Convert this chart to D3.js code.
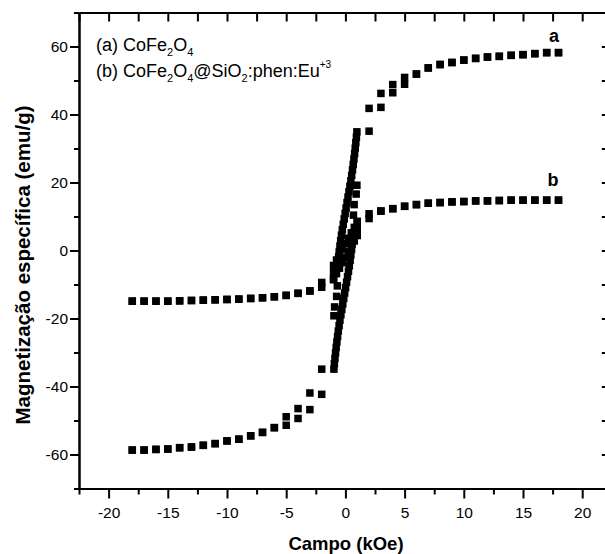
<!DOCTYPE html>
<html><head><meta charset="utf-8">
<script src="https://cdn.jsdelivr.net/npm/d3@7"></script>
<style>body{margin:0;background:#fff} svg{display:block}</style>
</head><body>
<svg id="chart" width="605" height="554"></svg>
<script>
// ---- Data ----
// Series a: CoFe2O4, descending and ascending field sweeps (field in kOe, magnetization in emu/g)
const aFieldDesc = [18,17,16,15,14,13,12,11,10,9,8,7,6,5,4,3,2,
  0.97,0.93,0.88,0.83,0.78,0.72,0.66,0.60,0.53,0.46,0.38,0.30,0.22,0.14,0.06,-0.02,-0.10,-0.18,
  -0.26,-0.33,-0.40,-0.46,-0.52,-0.57,-0.62,-0.66,-0.68,-0.74,-0.91,-0.97,
  -2,-3,-4,-5,-6,-7,-8,-9,-10,-11,-12,-13,-14,-15,-16,-17,-18];
const aMagDesc = [58.2,58.2,57.9,57.6,57.4,57.1,56.9,56.5,56.0,55.3,54.7,53.7,51.9,50.9,48.8,46.2,41.8,
  34.9,33.3,31.7,30.1,28.5,26.9,25.3,23.7,22.1,20.5,18.9,17.3,15.7,14.1,12.5,10.9,9.3,7.7,
  6.1,4.5,2.9,1.3,-0.3,-1.9,-3.5,-5.1,-10.4,-13.5,-16.6,-19.2,
  -34.9,-41.9,-46.5,-48.9,-52.1,-53.5,-54.5,-55.5,-56.0,-56.8,-57.3,-57.8,-58.0,-58.4,-58.5,-58.7,-58.7];
const aFieldAsc = [-18,-17,-16,-15,-14,-13,-12,-11,-10,-9,-8,-7,-6,-5,-4,-3,-2,
  -0.97,-0.93,-0.88,-0.83,-0.78,-0.72,-0.66,-0.60,-0.53,-0.46,-0.38,-0.30,-0.22,-0.14,-0.06,0.02,0.10,0.18,
  0.26,0.33,0.40,0.46,0.52,0.57,0.62,0.66,0.68,0.74,0.91,0.97,
  2,3,4,5,6,7,8,9,10,11,12,13,14,15,16,17,18];
const aMagAsc = [-58.7,-58.7,-58.5,-58.4,-58.0,-57.8,-57.3,-56.8,-56.0,-55.5,-54.5,-53.5,-52.1,-51.4,-49.4,-46.8,-42.3,
  -34.9,-33.3,-31.7,-30.1,-28.5,-26.9,-25.3,-23.7,-22.1,-20.5,-18.9,-17.3,-15.7,-14.1,-12.5,-10.9,-9.3,-7.7,
  -6.1,-4.5,-2.9,-1.3,0.3,1.9,3.5,5.1,10.4,13.5,16.6,19.2,
  35.1,42.1,46.4,48.9,51.9,53.7,54.7,55.3,56.0,56.5,56.9,57.1,57.4,57.6,57.9,58.2,58.2];

// Series b: CoFe2O4@SiO2:phen:Eu+3
const bFieldDesc = [18,17,16,15,14,13,12,11,10,9,8,7,6,5,4,3,2,
  1.0,0.75,0.5,0.25,0,-0.25,-0.5,-0.75,-1.0,-1.0,-1.0,
  -2,-3,-4,-5,-6,-7,-8,-9,-10,-11,-12,-13,-14,-15,-16,-17,-18];
const bMagDesc = [14.8,14.8,14.8,14.8,14.8,14.7,14.6,14.6,14.4,14.3,14.1,13.9,13.5,13.0,12.3,11.6,10.8,
  8.4,6.8,5.2,3.6,2.0,0.4,-1.2,-2.8,-4.4,-6.5,-8.6,
  -9.4,-11.9,-12.6,-13.2,-13.6,-13.9,-14.1,-14.3,-14.4,-14.5,-14.6,-14.7,-14.8,-14.9,-14.9,-14.9,-14.9];
const bFieldAsc = [-18,-17,-16,-15,-14,-13,-12,-11,-10,-9,-8,-7,-6,-5,-4,-3,-2,
  -1.0,-0.75,-0.5,-0.25,0,0.25,0.5,0.75,1.0,1.0,1.0,
  2,3,4,5,6,7,8,9,10,11,12,13,14,15,16,17,18];
const bMagAsc = [-14.9,-14.9,-14.9,-14.9,-14.8,-14.7,-14.6,-14.5,-14.4,-14.3,-14.1,-13.9,-13.6,-13.2,-12.6,-11.9,-10.8,
  -8.4,-6.8,-5.2,-3.6,-2.0,-0.4,1.2,2.8,4.4,6.5,8.6,
  9.4,11.6,12.3,13.0,13.5,13.9,14.1,14.3,14.4,14.6,14.6,14.7,14.8,14.8,14.8,14.8,14.8];

const xMajorTicks = [-20,-15,-10,-5,0,5,10,15,20];
const xMinorTicks = [-22.5,-17.5,-12.5,-7.5,-2.5,2.5,7.5,12.5,17.5,22.5];
const yMajorTicks = [-60,-40,-20,0,20,40,60];
const yMinorTicks = [-70,-50,-30,-10,10,30,50,70];

const xLabel = "Campo (kOe)";
const yLabel = "Magnetização específica (emu/g)";
const legendA = [{t: "(a) CoFe"}, {sub: "2"}, {t: "O"}, {sub: "4"}];
const legendB = [{t: "(b) CoFe"}, {sub: "2"}, {t: "O"}, {sub: "4"}, {t: "@SiO"}, {sub: "2"}, {t: ":phen:Eu"}, {sup: "+3"}];

// ---- Drawing ----
const svg = d3.select("#chart");
const FONT = "'Liberation Sans', Arial, sans-serif";
const x = d3.scaleLinear().domain([-22.5, 22.5]).range([79, 611.8]);
const y = d3.scaleLinear().domain([-70, 70]).range([488.5, 12.5]);

function styleAxis(g) {
  g.selectAll("path.domain").attr("stroke", "#000").attr("stroke-width", 2);
  g.selectAll(".tick line").attr("stroke", "#000").attr("stroke-width", 2);
}
const fmt = d => d < 0 ? "-" + Math.abs(d) : String(d);

// bottom
const gB = svg.append("g").attr("transform", `translate(0,${y(-70)})`)
  .call(d3.axisBottom(x).tickValues(xMajorTicks).tickSize(10).tickSizeOuter(0).tickPadding(8).tickFormat(fmt));
styleAxis(gB);
gB.selectAll("text").attr("font-family", FONT).attr("font-size", "15.5px").attr("fill", "#000");
const gBm = svg.append("g").attr("transform", `translate(0,${y(-70)})`)
  .call(d3.axisBottom(x).tickValues(xMinorTicks).tickSize(6).tickSizeOuter(0).tickFormat(""));
styleAxis(gBm);
gBm.selectAll("text").remove();

// top
const gT = svg.append("g").attr("transform", `translate(0,${y(70)})`)
  .call(d3.axisTop(x).tickValues(xMajorTicks.concat(xMinorTicks)).tickSize(-9).tickSizeOuter(0).tickFormat(""));
styleAxis(gT);
gT.selectAll("text").remove();

// left
const gL = svg.append("g").attr("transform", `translate(${x(-22.5)},0)`)
  .call(d3.axisLeft(y).tickValues(yMajorTicks).tickSize(9).tickSizeOuter(0).tickPadding(2).tickFormat(fmt));
styleAxis(gL);
gL.selectAll("text").attr("font-family", FONT).attr("font-size", "15.5px").attr("fill", "#000");
const gLm = svg.append("g").attr("transform", `translate(${x(-22.5)},0)`)
  .call(d3.axisLeft(y).tickValues(yMinorTicks).tickSize(5).tickSizeOuter(0).tickFormat(""));
styleAxis(gLm);
gLm.selectAll("text").remove();

// right
const gR = svg.append("g").attr("transform", `translate(${x(22.5)},0)`)
  .call(d3.axisRight(y).tickValues(yMajorTicks.concat(yMinorTicks)).tickSize(-10).tickSizeOuter(0).tickFormat(""));
styleAxis(gR);
gR.selectAll("text").remove();

// data
const series = [
  {H: aFieldDesc, M: aMagDesc}, {H: aFieldAsc, M: aMagAsc},
  {H: bFieldDesc, M: bMagDesc}, {H: bFieldAsc, M: bMagAsc}
];
const S = 7.5;
series.forEach(s => {
  const pts = s.H.map((h, i) => [h, s.M[i]]);
  svg.append("g").selectAll("rect").data(pts).join("rect")
    .attr("x", d => x(d[0]) - S / 2).attr("y", d => y(d[1]) - S / 2)
    .attr("width", S).attr("height", S).attr("fill", "#000");
});

// axis labels
svg.append("text").attr("x", 346).attr("y", 550).attr("text-anchor", "middle")
  .attr("font-family", FONT).attr("font-weight", "bold").attr("font-size", "18.5px").text(xLabel);
svg.append("text").attr("transform", "translate(29.5,265) rotate(-90)").attr("text-anchor", "middle")
  .attr("font-family", FONT).attr("font-weight", "bold").attr("font-size", "20.5px").text(yLabel);

// legend (chemical formulas with sub/superscripts; offsets carried to the next span)
function chem(parts, x0, y0) {
  const txt = svg.append("text").attr("x", x0).attr("y", y0)
    .attr("font-family", FONT).attr("font-size", "18px").attr("fill", "#000");
  let carry = 0;
  parts.forEach(p => {
    if (p.sub) {
      txt.append("tspan").attr("font-size", "11px").attr("dy", carry + 5).text(p.sub);
      carry = -5;
    } else if (p.sup) {
      txt.append("tspan").attr("font-size", "10px").attr("dy", carry - 9).text(p.sup);
      carry = 9;
    } else {
      txt.append("tspan").attr("dy", carry).text(p.t);
      carry = 0;
    }
  });
}
chem(legendA, 96, 51);
chem(legendB, 96, 77);

// curve labels
svg.append("text").attr("x", 554).attr("y", 42).attr("text-anchor", "middle")
  .attr("font-family", FONT).attr("font-weight", "bold").attr("font-size", "18px").text("a");
svg.append("text").attr("x", 553).attr("y", 186).attr("text-anchor", "middle")
  .attr("font-family", FONT).attr("font-weight", "bold").attr("font-size", "18px").text("b");
</script>
</body></html>
